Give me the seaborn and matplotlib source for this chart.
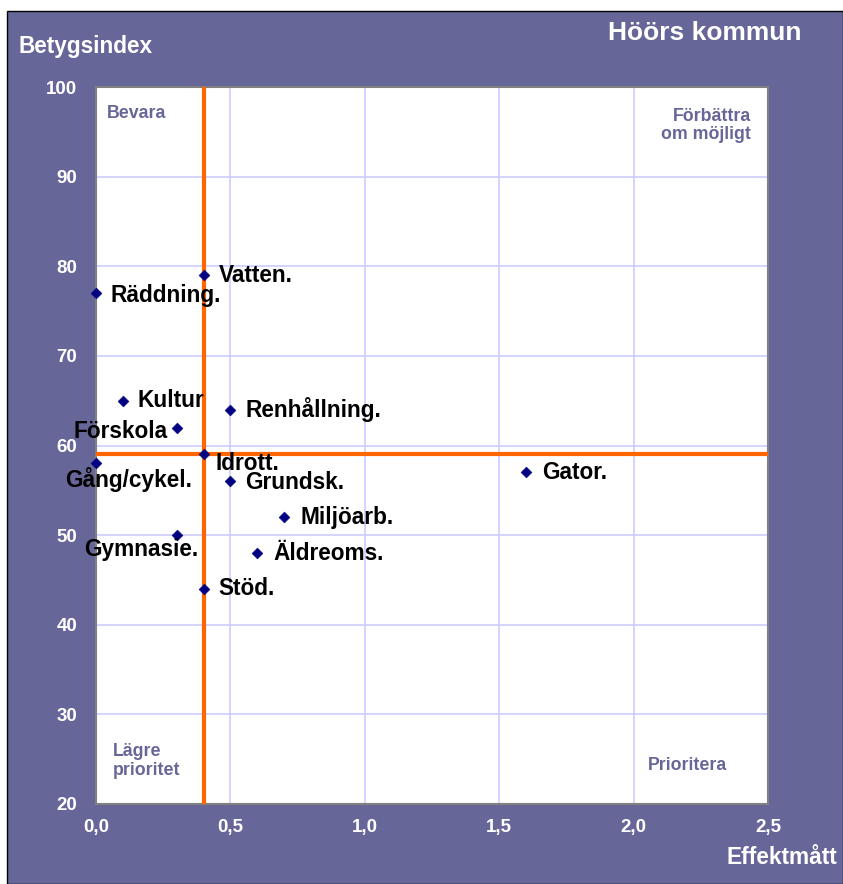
import matplotlib
matplotlib.use("Agg")
import matplotlib.pyplot as plt
from matplotlib.patches import Rectangle
import pandas as pd
import seaborn as sns

# data
names = ["Vatten.", "Räddning.", "Kultur", "Renhållning.", "Förskola", "Idrott.",
         "Gång/cykel.", "Grundsk.", "Gator.", "Miljöarb.", "Gymnasie.", "Äldreoms.", "Stöd."]
effekt = [0.4, 0.0, 0.1, 0.5, 0.3, 0.4, 0.0, 0.5, 1.6, 0.7, 0.3, 0.6, 0.4]
betyg = [79, 77, 65, 64, 62, 59, 58, 56, 57, 52, 50, 48, 44]
x_ticks = [0.0, 0.5, 1.0, 1.5, 2.0, 2.5]
y_ticks = [20, 30, 40, 50, 60, 70, 80, 90, 100]
mid_x = 0.4
mid_y = 59

df = pd.DataFrame({"namn": names, "effekt": effekt, "betyg": betyg})

purple = "#666699"
sns.set_style("white")
plt.rcParams["font.family"] = ["Liberation Sans", "DejaVu Sans"]

fig = plt.figure(figsize=(8.43, 8.84), dpi=100)
fig.patch.set_facecolor("white")
fig.patches.append(Rectangle((7 / 843, 0), 1 - 7 / 843, 1 - 11 / 884, transform=fig.transFigure,
                             facecolor=purple, edgecolor="black", linewidth=1, zorder=-10))

ax = fig.add_axes([96 / 843, 1 - 804 / 884, 672 / 843, 717 / 884])
ax.set_facecolor("white")

sns.scatterplot(data=df, x="effekt", y="betyg", ax=ax, marker="D", s=30,
                color="#000080", edgecolor="#000080", zorder=5, clip_on=False)

ax.axvline(mid_x, color="#FF6600", lw=3, zorder=3)
ax.axhline(mid_y, color="#FF6600", lw=3, zorder=3)

# label offsets in pixels (dx, dy, ha)
offsets = {
    "Vatten.": (15, 0, "left"), "Räddning.": (14, -2, "left"), "Kultur": (15, 0, "left"),
    "Renhållning.": (15, 0, "left"), "Förskola": (-9, -4, "right"), "Idrott.": (12, -9, "left"),
    "Gång/cykel.": (-31, -16, "left"), "Grundsk.": (15, -1, "left"), "Gator.": (16, 0, "left"),
    "Miljöarb.": (16, 0, "left"), "Gymnasie.": (22, -14, "right"), "Äldreoms.": (16, 0, "left"),
    "Stöd.": (15, 0, "left"),
}
for n, xv, yv in zip(names, effekt, betyg):
    dx, dy, ha = offsets[n]
    ax.annotate(n, (xv, yv), xytext=(dx, dy), textcoords="offset pixels", ha=ha, va="center",
                fontsize=16.3, fontweight="bold", color="black", zorder=6)

ax.set_xlim(0, 2.5)
ax.set_ylim(20, 100)
ax.set_xticks(x_ticks)
ax.set_yticks(y_ticks)
ax.set_xticklabels([f"{t:.1f}".replace(".", ",") for t in x_ticks])
ax.set_yticklabels([str(t) for t in y_ticks])
ax.grid(True, color="#CCCCFF", lw=1.2, zorder=1)
ax.set_axisbelow(True)
ax.tick_params(direction="in", length=4, width=1.2, color="#808080",
               labelcolor="white", labelsize=13.5)
ax.tick_params(axis="x", pad=11)
ax.tick_params(axis="y", pad=13.5)
for lbl in ax.get_xticklabels() + ax.get_yticklabels():
    lbl.set_fontweight("bold")
for sp in ax.spines.values():
    sp.set_visible(True)
    sp.set_color("#808080")
    sp.set_linewidth(1.5)
ax.set_xlabel("")
ax.set_ylabel("")

# quadrant texts
qkw = dict(color=purple, fontsize=12.8, fontweight="bold", transform=ax.transAxes)
ax.text(11 / 672, 1 - 26 / 717, "Bevara", ha="left", va="center", **qkw)
ax.text(655 / 672, 1 - 38.5 / 717, "Förbättra\nom möjligt", ha="right", va="center",
        linespacing=1.15, **qkw)
ax.text(17 / 672, 43 / 717, "Lägre\nprioritet", ha="left", va="center", linespacing=1.15, **qkw)
ax.text(631 / 672, 39 / 717, "Prioritera", ha="right", va="center", **qkw)

fig.text(19 / 843, 1 - 46 / 884, "Betygsindex", color="white", fontsize=16.3, fontweight="bold",
         ha="left", va="center")
fig.text(801 / 843, 1 - 33 / 884, "Höörs kommun", color="white", fontsize=19, fontweight="bold",
         ha="right", va="center")
fig.text(837 / 843, 1 - 857 / 884, "Effektmått", color="white", fontsize=16.3, fontweight="bold",
         ha="right", va="center")

fig.savefig("out.png", dpi=100, facecolor=fig.get_facecolor())
